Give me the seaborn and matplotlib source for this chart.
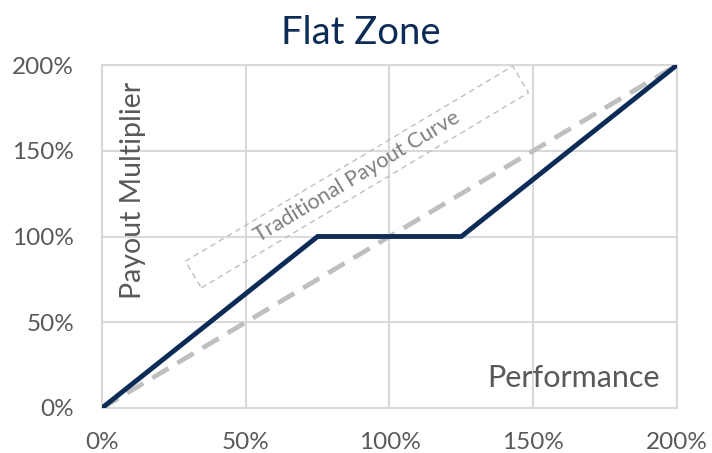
import matplotlib
matplotlib.use("Agg")
import matplotlib.pyplot as plt
import seaborn as sns
import pandas as pd
from matplotlib.patches import Rectangle
from matplotlib.transforms import Affine2D, IdentityTransform

# Data
flat_perf = [0, 75, 125, 200]
flat_payout = [0, 100, 100, 200]
trad_perf = [0, 200]
trad_payout = [0, 200]
tick_values = [0, 50, 100, 150, 200]
tick_labels = ["0%", "50%", "100%", "150%", "200%"]

sns.set_style("white")
plt.rcParams["font.family"] = ["Lato", "DejaVu Sans"]

navy = "#0C2B57"
grey_text = "#595959"

fig = plt.figure(figsize=(7.12, 4.53), dpi=100)
ax = fig.add_axes([102/712, 1-408/453, 575/712, 343/453])

df_flat = pd.DataFrame({"perf": flat_perf, "payout": flat_payout})
df_trad = pd.DataFrame({"perf": trad_perf, "payout": trad_payout})

sns.lineplot(data=df_trad, x="perf", y="payout", ax=ax, color="#BFBFBF",
             linewidth=3.4, linestyle=(0, (4, 2.2)), zorder=3)
sns.lineplot(data=df_flat, x="perf", y="payout", ax=ax, color=navy,
             linewidth=3.5, zorder=4, solid_joinstyle="miter")

ax.set_xlim(0, 200)
ax.set_ylim(0, 200)
ax.set_xticks(tick_values)
ax.set_xticklabels(tick_labels)
ax.set_yticks(tick_values)
ax.set_yticklabels(tick_labels)
ax.grid(True, color="#D9D9D9", linewidth=1.5, zorder=0)
ax.set_axisbelow(True)
for s in ax.spines.values():
    s.set_color("#D9D9D9")
    s.set_linewidth(1.5)
ax.tick_params(axis="both", length=0, labelsize=17.5, labelcolor=grey_text)
ax.tick_params(axis="x", pad=17)
ax.tick_params(axis="y", pad=20)
ax.set_xlabel("")
ax.set_ylabel("")

ax.set_title("Flat Zone", fontsize=27.5, color=navy, pad=15, x=0.45)

ax.text(10.8, 127, "Payout Multiplier", rotation=90, fontsize=20.5,
        color=grey_text, ha="center", va="center")
ax.text(194, 17.5, "Performance", fontsize=22, color=grey_text,
        ha="right", va="center")

ax.text(88.7, 134.7, "Traditional Payout Curve", rotation=31, fontsize=15.5,
        color="#7F7F7F", ha="center", va="center", rotation_mode="anchor")

# dashed annotation box (display pixel coords)
cx, cy = 357, 453 - 177
w, h = 381, 31
rect = Rectangle((cx - w/2, cy - h/2), w, h, fill=False, edgecolor="#BFBFBF",
                 linestyle=(0, (4, 3)), linewidth=1.0,
                 transform=Affine2D().rotate_deg_around(cx, cy, 30.8) + IdentityTransform())
fig.patches.append(rect)
rect.set_figure(fig)

fig.savefig("out.png", dpi=100)
